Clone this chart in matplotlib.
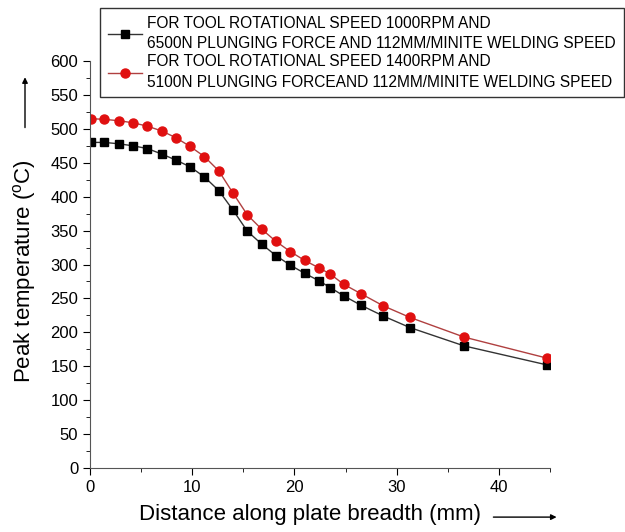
import matplotlib.pyplot as plt
from matplotlib.ticker import MultipleLocator
from matplotlib.patches import FancyArrowPatch
from matplotlib import font_manager

# distance along plate breadth (mm)
dist = [0.1, 1.4, 2.8, 4.2, 5.6, 7.0, 8.4, 9.8, 11.2, 12.6, 14.0, 15.4, 16.8,
        18.2, 19.6, 21.0, 22.4, 23.5, 24.8, 26.5, 28.7, 31.3, 36.6, 44.7]
# peak temperature (deg C)
temp_1000 = [480, 480, 478, 475, 471, 463, 454, 444, 429, 409, 380, 349, 330,
             313, 299, 287, 276, 266, 254, 240, 224, 207, 180, 152]
temp_1400 = [515, 514, 512, 509, 504, 497, 487, 474, 459, 438, 405, 373, 352,
             334, 319, 306, 295, 286, 271, 257, 239, 222, 193, 162]

label_1000 = ("FOR TOOL ROTATIONAL SPEED 1000RPM AND\n"
              "6500N PLUNGING FORCE AND 112MM/MINITE WELDING SPEED")
label_1400 = ("FOR TOOL ROTATIONAL SPEED 1400RPM AND\n"
              "5100N PLUNGING FORCEAND 112MM/MINITE WELDING SPEED")

plt.rcParams['font.family'] = ['Liberation Sans', 'DejaVu Sans']
names = {f.name for f in font_manager.fontManager.ttflist}
narrow = 'Liberation Sans Narrow' if 'Liberation Sans Narrow' in names else 'Liberation Sans'

fig = plt.figure(figsize=(6.25, 5.32), dpi=100)
ax = fig.add_axes([0.144, 0.1203, 0.736, 0.765])

ax.plot(dist, temp_1000, color='#333333', lw=1, marker='s', ms=6.3,
        mfc='black', mec='black', label=label_1000)
ax.plot(dist, temp_1400, color='#b04040', lw=1, marker='o', ms=6.5,
        mfc='#e01010', mec='#e01010', label=label_1400)

ax.set_xlim(0, 45)
ax.set_ylim(0, 600)
ax.xaxis.set_major_locator(MultipleLocator(10))
ax.xaxis.set_minor_locator(MultipleLocator(5))
ax.yaxis.set_major_locator(MultipleLocator(50))
ax.yaxis.set_minor_locator(MultipleLocator(25))
ax.tick_params(which='major', direction='out', length=5, labelsize=12)
ax.tick_params(which='minor', direction='out', length=3)
for s in ['top', 'right']:
    ax.spines[s].set_visible(False)
for s in ['left', 'bottom']:
    ax.spines[s].set_color('#555555')

fig.text(0.496, 0.032, 'Distance along plate breadth (mm)', fontsize=16,
         ha='center', va='center')
fig.text(0.04, 0.49, 'Peak temperature ($\\mathregular{^oC}$)', fontsize=16,
         ha='center', va='center', rotation=90)

fig.patches.append(FancyArrowPatch(
    (0.785, 0.028), (0.895, 0.028), transform=fig.transFigure,
    arrowstyle='-|>', mutation_scale=8, lw=1, color='black'))
fig.patches.append(FancyArrowPatch(
    (0.04, 0.755), (0.04, 0.86), transform=fig.transFigure,
    arrowstyle='-|>', mutation_scale=8, lw=1, color='black'))

leg = fig.legend(loc='upper left', bbox_to_anchor=(0.16, 0.985),
                 borderaxespad=0,
                 prop={'family': narrow, 'size': 11.2}, frameon=True,
                 fancybox=False, handlelength=2.2, handletextpad=0.35,
                 borderpad=0.5, labelspacing=0.2)
for t in leg.get_texts():
    t.set_linespacing(1.45)
leg.get_frame().set_edgecolor('black')
leg.get_frame().set_linewidth(1)

fig.savefig('out.png', dpi=100)
